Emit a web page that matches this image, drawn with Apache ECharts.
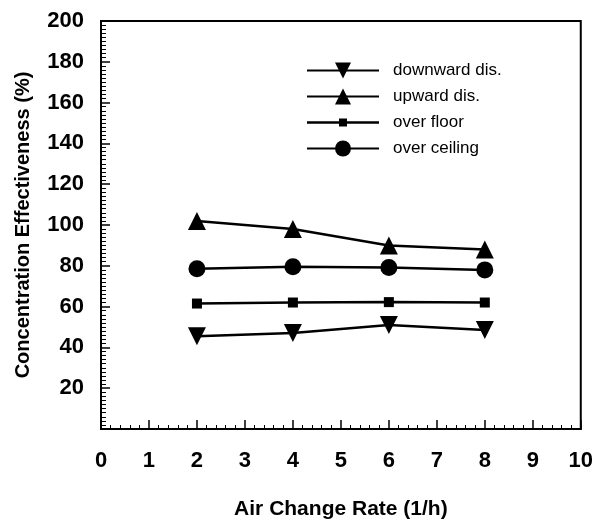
<!DOCTYPE html>
<html>
<head>
<meta charset="utf-8">
<script src="https://cdn.jsdelivr.net/npm/echarts@6/dist/echarts.min.js"></script>
<style>
  html, body { margin: 0; padding: 0; background: #fff; }
  #chart { width: 596px; height: 528px; }
</style>
</head>
<body>
<div id="chart"></div>
<script>
  // air change rate (1/h)
  var airChange = [2, 4, 6, 8];
  // concentration effectiveness (%)
  var downwardDis = [45.5, 47, 51, 48.5];
  var upwardDis = [102, 98, 90, 88];
  var overFloor = [61.5, 62, 62.2, 62];
  var overCeiling = [78.5, 79.5, 79.2, 78];

  var seriesNames = ['downward dis.', 'upward dis.', 'over floor', 'over ceiling'];

  function pairs(ys) {
    return airChange.map(function (x, i) { return [x, ys[i]]; });
  }

  var font = '"Liberation Sans", Arial, sans-serif';
  var chart = echarts.init(document.getElementById('chart'));

  // small square on a line, for the legend (the default one is too big)
  var floorIcon = 'path://M0,2.75L32,2.75L32,0L40,0L40,2.75L72,2.75L72,5.25L40,5.25L40,8L32,8L32,5.25L0,5.25Z';

  function lineSeries(name, ys, symbol, size, rotate) {
    return {
      name: name,
      type: 'line',
      data: pairs(ys),
      symbol: symbol,
      symbolSize: size,
      symbolRotate: rotate || 0,
      showAllSymbol: true,
      lineStyle: { color: '#000', width: 2.5 },
      itemStyle: { color: '#000', borderWidth: 0 },
      animation: false
    };
  }

  chart.setOption({
    backgroundColor: '#fff',
    animation: false,
    grid: {
      left: 101, right: 15, top: 21, bottom: 99,
      show: true, borderColor: '#000', borderWidth: 2
    },
    legend: {
      orient: 'vertical',
      left: 306, top: 62, padding: 0,
      itemWidth: 72, itemHeight: 20, itemGap: 9,
      data: [
        { name: seriesNames[0] },
        { name: seriesNames[1] },
        { name: seriesNames[2], icon: floorIcon },
        { name: seriesNames[3] }
      ],
      textStyle: { fontFamily: font, fontSize: 17, color: '#000', padding: [0, 0, 0, 9] }
    },
    xAxis: {
      type: 'value',
      min: 0, max: 10, interval: 1,
      name: 'Air Change Rate (1/h)',
      nameLocation: 'middle',
      nameGap: 70,
      nameTextStyle: { fontFamily: font, fontSize: 21, fontWeight: 'bold', color: '#000' },
      axisLine: { lineStyle: { color: '#000', width: 2 } },
      axisTick: { inside: true, length: 9, lineStyle: { color: '#000', width: 1.5 } },
      minorTick: { show: true, splitNumber: 5, length: 4, lineStyle: { color: '#000', width: 1 } },
      splitLine: { show: false },
      axisLabel: { fontFamily: font, fontSize: 22, fontWeight: 'bold', color: '#000', margin: 21 }
    },
    yAxis: {
      type: 'value',
      min: 0, max: 200, interval: 20,
      name: 'Concentration Effectiveness (%)',
      nameLocation: 'middle',
      nameRotate: 90,
      nameGap: 68,
      nameTextStyle: { fontFamily: font, fontSize: 20, fontWeight: 'bold', color: '#000' },
      axisLine: { lineStyle: { color: '#000', width: 2 } },
      axisTick: { inside: true, length: 9, lineStyle: { color: '#000', width: 1.5 } },
      minorTick: { show: true, splitNumber: 10, length: 5, lineStyle: { color: '#000', width: 1 } },
      splitLine: { show: false },
      axisLabel: {
        fontFamily: font, fontSize: 22, fontWeight: 'bold', color: '#000', margin: 17,
        formatter: function (v) { return v === 0 ? '' : v; }
      }
    },
    series: [
      lineSeries(seriesNames[0], downwardDis, 'triangle', 18, 180),
      lineSeries(seriesNames[1], upwardDis, 'triangle', 18, 0),
      lineSeries(seriesNames[2], overFloor, 'rect', 10, 0),
      lineSeries(seriesNames[3], overCeiling, 'circle', 17, 0)
    ]
  });
</script>
</body>
</html>
